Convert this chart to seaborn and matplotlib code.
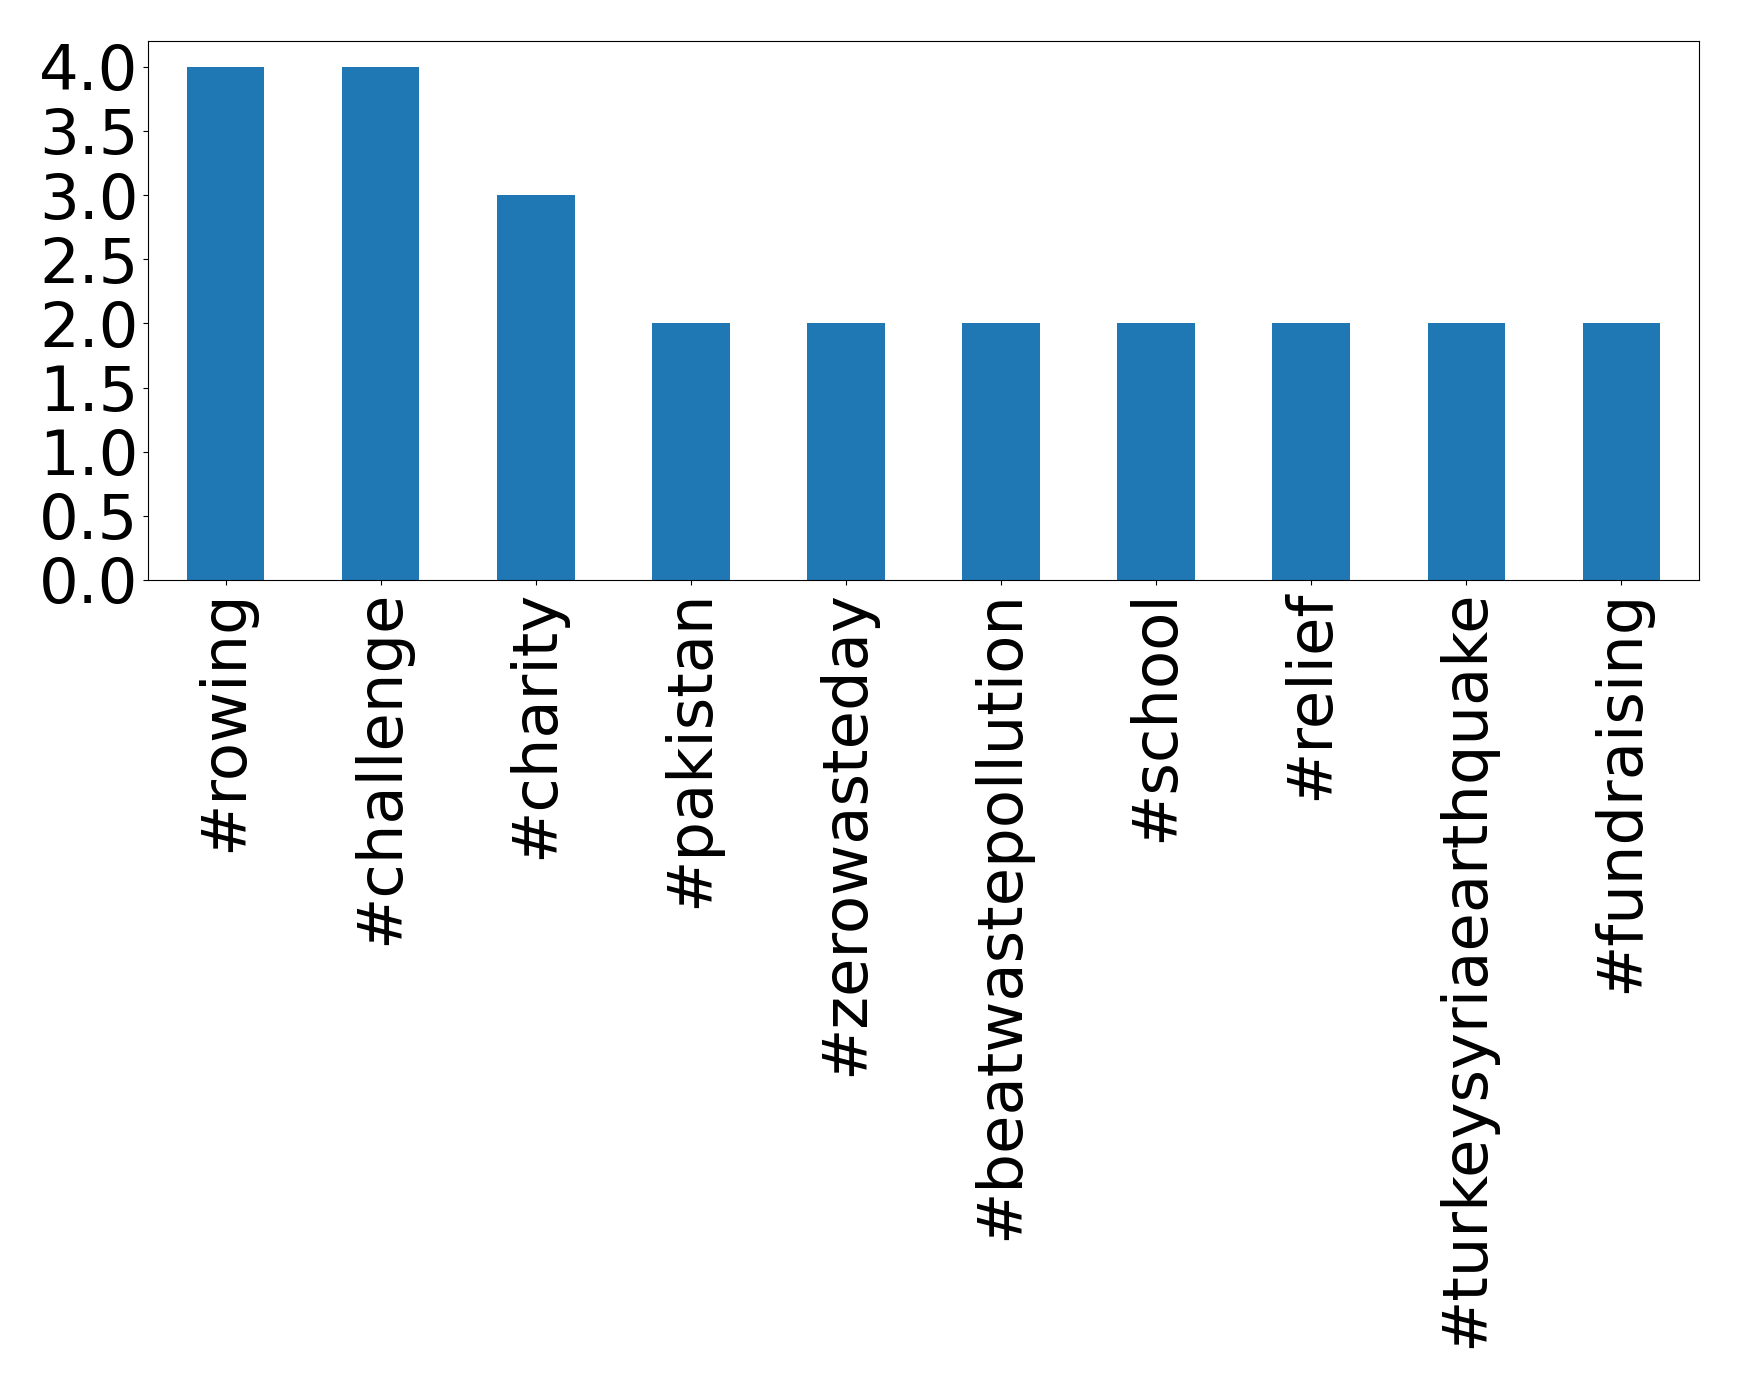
import matplotlib
matplotlib.use('Agg')
import matplotlib.pyplot as plt
import seaborn as sns
import pandas as pd

# данные: топ хэштегов
hashtags = ['#rowing', '#challenge', '#charity', '#pakistan', '#zerowasteday',
            '#beatwastepollution', '#school', '#relief', '#turkeysyriaearthquake',
            '#fundraising']
counts = [4, 4, 3, 2, 2, 2, 2, 2, 2, 2]

df = pd.DataFrame({'hashtag': hashtags, 'count': counts})

fig = plt.figure(figsize=(17.39, 13.87), dpi=100)
ax = fig.add_axes([148 / 1739, 1 - 580 / 1387, 1551 / 1739, 539 / 1387])

sns.barplot(data=df, x='hashtag', y='count', color='#1f77b4', saturation=1,
            width=0.5, ax=ax)

ax.set_xlabel('')
ax.set_ylabel('')
ax.set_xlim(-0.5, len(hashtags) - 0.5)
ax.set_yticks([0.0, 0.5, 1.0, 1.5, 2.0, 2.5, 3.0, 3.5, 4.0])
ax.set_yticklabels(['0.0', '0.5', '1.0', '1.5', '2.0', '2.5', '3.0', '3.5', '4.0'])
ax.tick_params(axis='both', labelsize=45)
plt.xticks(rotation=90)

fig.savefig('out.png', dpi=100)
plt.close()
